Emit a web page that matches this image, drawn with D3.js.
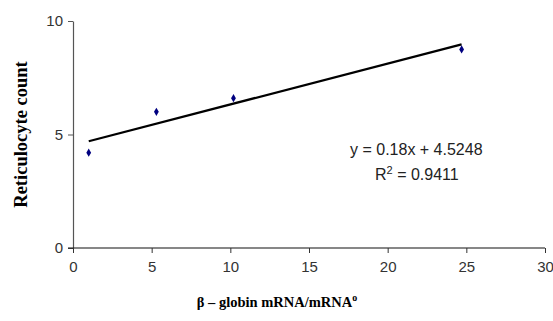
<!DOCTYPE html>
<html>
<head>
<meta charset="utf-8">
<script src="https://cdn.jsdelivr.net/npm/d3@7"></script>
<style>
  body { margin: 0; background: #fff; }
  svg { display: block; }
</style>
</head>
<body>
<div id="chart"></div>
<script>
// 数据
const xValues = [1.0, 5.3, 10.2, 24.7];
const yValues = [4.2, 6.0, 6.6, 8.75];
const xTicks = [0, 5, 10, 15, 20, 25, 30];
const yTicks = [0, 5, 10];
const slope = 0.18, intercept = 4.5248;   // 趋势线
const eqLabel = 'y = 0.18x + 4.5248';
const r2Value = '0.9411';

const width = 553, height = 321;
const margin = { left: 73, top: 21 };

const svg = d3.select('#chart').append('svg')
  .attr('width', width)
  .attr('height', height);

const x = d3.scaleLinear().domain([0, 30]).range([margin.left, 545]);
const y = d3.scaleLinear().domain([0, 10]).range([248, margin.top]);

// y轴
const yAxis = svg.append('g')
  .attr('transform', `translate(${margin.left},0)`)
  .call(d3.axisLeft(y).tickValues(yTicks).tickSize(5).tickSizeOuter(0).tickPadding(5));
yAxis.select('.domain').attr('stroke', '#555').attr('stroke-width', 1.2);
yAxis.selectAll('.tick line').attr('stroke', '#555');

// x轴
const xAxis = svg.append('g')
  .attr('transform', `translate(0,${y(0)})`)
  .call(d3.axisBottom(x).tickValues(xTicks).tickSize(5).tickSizeOuter(0).tickPadding(8));
xAxis.select('.domain').attr('stroke', '#111').attr('stroke-width', 1.2)
  .attr('d', `M${x(0) - 5},0H${x(30)}`);
xAxis.selectAll('.tick line').attr('stroke', '#333');

svg.selectAll('.tick text')
  .attr('fill', '#333')
  .style('font-family', 'Liberation Sans, Arial, sans-serif')
  .style('font-size', '15px');

// 趋势线
const x0 = d3.min(xValues), x1 = d3.max(xValues);
svg.append('line')
  .attr('x1', x(x0)).attr('y1', y(slope * x0 + intercept))
  .attr('x2', x(x1)).attr('y2', y(slope * x1 + intercept))
  .attr('stroke', '#000')
  .attr('stroke-width', 2.2);

// 数据点（菱形）
svg.append('g').selectAll('path')
  .data(xValues.map((d, i) => [d, yValues[i]]))
  .join('path')
  .attr('transform', d => `translate(${x(d[0])},${y(d[1])})`)
  .attr('d', d3.symbol(d3.symbolDiamond, 20))
  .attr('fill', '#000080');

// 方程
const eq = svg.append('g')
  .style('font-family', 'Liberation Sans, Arial, sans-serif')
  .style('font-size', '16px')
  .attr('fill', '#222');
eq.append('text').attr('x', 350).attr('y', 155).text(eqLabel);
const r2 = eq.append('text').attr('x', 375).attr('y', 180);
r2.append('tspan').text('R');
r2.append('tspan').attr('dy', -6).style('font-size', '11px').text('2');
r2.append('tspan').attr('dy', 6).text(' = ' + r2Value);

// 轴标题
svg.append('text')
  .attr('transform', `translate(27,${(y(0) + y(10)) / 2}) rotate(-90)`)
  .attr('text-anchor', 'middle')
  .style('font-family', 'Liberation Serif, Times New Roman, serif')
  .style('font-weight', 'bold')
  .style('font-size', '18.5px')
  .text('Reticulocyte count');

const xl = svg.append('text')
  .attr('x', 277).attr('y', 307)
  .attr('text-anchor', 'middle')
  .style('font-family', 'Liberation Serif, Times New Roman, serif')
  .style('font-weight', 'bold')
  .style('font-size', '14.5px');
xl.append('tspan').text('β – globin mRNA/mRNA');
xl.append('tspan').attr('dy', -6).style('font-size', '10px').text('o');
</script>
</body>
</html>
